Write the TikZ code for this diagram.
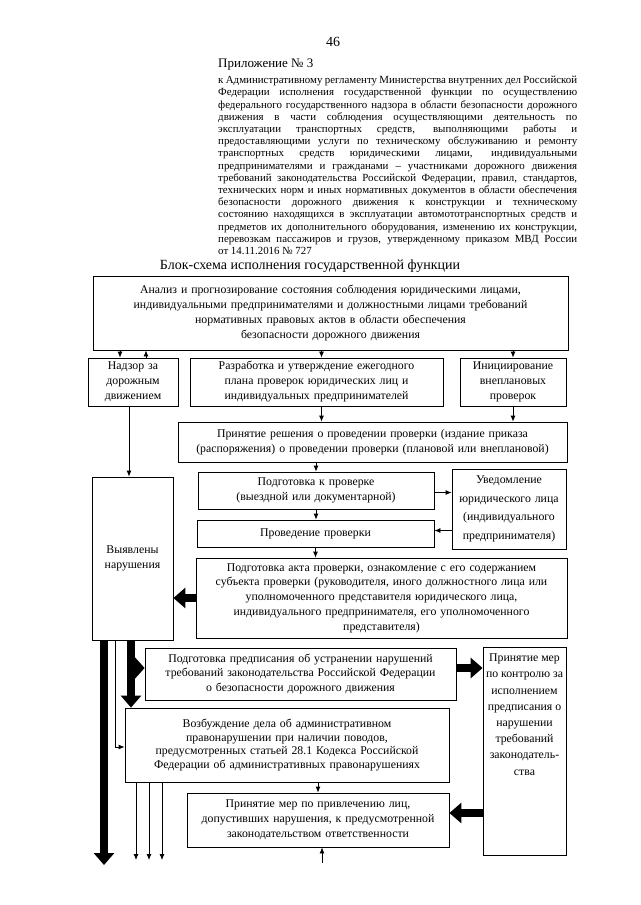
\documentclass[tikz,border=0pt]{standalone}
\usepackage{fontspec}
\setmainfont{Liberation Serif}
\usetikzlibrary{arrows.meta,positioning}

\newcommand{\pline}[1]{\makebox[359pt][s]{\spaceskip=0pt\xspaceskip=0pt #1}}

\tikzset{
  blk/.style={draw, line width=0.8pt, inner sep=0pt, align=center,
    font=\fontsize{11.8}{15}\selectfont},
  arr/.style={line width=0.8pt, -{Latex[length=6pt,width=5pt]}},
  fat/.style={line width=8pt, -{Triangle[length=12pt,width=20pt]}}
}

\begin{document}
\begin{tikzpicture}[x=1pt,y=-1pt]
\useasboundingbox (0,0) rectangle (640,905);

\node[font=\fontsize{14}{16}\selectfont] (page) at (333,42) {46};
\node[anchor=west, inner sep=0pt, font=\fontsize{13}{15}\selectfont] (appx) at (218,65) {Приложение № 3};
\node[anchor=north west, inner sep=0pt, text width=359pt, align=justify,
  font=\fontsize{10.9}{12.2}\selectfont] (reglam) at (218,76) {%
\pline{к Административному регламенту Министерства внутренних дел Российской}\\
\pline{Федерации исполнения государственной функции по осуществлению}\\
\pline{федерального государственного надзора в области безопасности дорожного}\\
\pline{движения в части соблюдения осуществляющими деятельность по}\\
\pline{эксплуатации транспортных средств, выполняющими работы и}\\
\pline{предоставляющими услуги по техническому обслуживанию и ремонту}\\
\pline{транспортных средств юридическими лицами, индивидуальными}\\
\pline{предпринимателями и гражданами – участниками дорожного движения}\\
\pline{требований законодательства Российской Федерации, правил, стандартов,}\\
\pline{технических норм и иных нормативных документов в области обеспечения}\\
\pline{безопасности дорожного движения к конструкции и техническому}\\
\pline{состоянию находящихся в эксплуатации автомототранспортных средств и}\\
\pline{предметов их дополнительного оборудования, изменению их конструкции,}\\
\pline{перевозкам пассажиров и грузов, утвержденному приказом МВД России}\\
от 14.11.2016 № 727};
\node[font=\fontsize{14}{16}\selectfont] (title) at (310,266) {Блок-схема исполнения государственной функции};

% blocks
\node[blk, text width=475pt, minimum height=74pt] (analiz) at (330.5,313) {Анализ и прогнозирование состояния соблюдения юридическими лицами,\\ индивидуальными предпринимателями и должностными лицами требований\\ нормативных правовых актов в области обеспечения\\ безопасности дорожного движения};
\node[blk, text width=90pt, minimum height=48pt] (nadzor) at (133,382) {Надзор за\\ дорожным\\ движением};
\node[blk, text width=253pt, minimum height=48pt] (razrab) at (316.5,382) {Разработка и утверждение ежегодного\\ плана проверок юридических лиц и\\ индивидуальных предпринимателей};
\node[blk, text width=106pt, minimum height=48pt] (inic) at (513,382) {Инициирование\\ внеплановых\\ проверок};
\node[blk, text width=389pt, minimum height=40pt] (reshenie) at (372.5,442) {Принятие решения о проведении проверки (издание приказа\\ (распоряжения) о проведении проверки (плановой или внеплановой)};
\node[blk, text width=81pt, minimum height=163pt] (vyyavl) at (132.5,558.5) {Выявлены\\ нарушения};
\node[blk, text width=236pt, minimum height=37pt] (podgot) at (316,490.5) {Подготовка к проверке\\ (выездной или документарной)};
\node[blk, text width=114pt, minimum height=80pt, font=\fontsize{11.8}{18.5}\selectfont] (uvedom) at (509,509) {Уведомление\\ юридического лица\\ (индивидуального\\ предпринимателя)};
\node[blk, text width=237pt, minimum height=27pt] (proved) at (315.5,533.5) {Проведение проверки};
\node[blk, text width=371pt, minimum height=80pt, font=\fontsize{11.8}{14.7}\selectfont] (akt) at (381.5,598) {Подготовка акта проверки, ознакомление с его содержанием\\ субъекта проверки (руководителя, иного должностного лица или\\ уполномоченного представителя юридического лица,\\ индивидуального предпринимателя, его уполномоченного\\ представителя)};
\node[blk, text width=311pt, minimum height=52pt, font=\fontsize{11.8}{14.5}\selectfont] (predpis) at (300.5,674) {Подготовка предписания об устранении нарушений\\ требований законодательства Российской Федерации\\ о безопасности дорожного движения};
\node[blk, inner ysep=4pt, font=\fontsize{11.8}{16.2}\selectfont] (kontrol) at (524.5,751) {\parbox[c][200pt][t]{83pt}{\centering\vspace*{3pt}Принятие мер\\ по контролю за\\ исполнением\\ предписания о\\ нарушении\\ требований\\ законодатель-\\ства}};
\node[blk, text width=324pt, minimum height=74pt, font=\fontsize{11.8}{13.8}\selectfont] (vozb) at (287,745) {Возбуждение дела об административном\\ правонарушении при наличии поводов,\\ предусмотренных статьей 28.1 Кодекса Российской\\ Федерации об административных правонарушениях};
\node[blk, text width=262pt, minimum height=54pt] (privl) at (318,820) {Принятие мер по привлечению лиц,\\ допустивших нарушения, к предусмотренной\\ законодательством ответственности};

% thin connectors
\draw[arr] ([xshift=-13pt]nadzor.north |- analiz.south) -- ([xshift=-13pt]nadzor.north);
\draw[arr] ([xshift=13pt]nadzor.north) -- ([xshift=13pt]nadzor.north |- analiz.south);
\draw[arr] ([xshift=5pt]razrab.north |- analiz.south) -- ([xshift=5pt]razrab.north);
\draw[arr] (inic.north |- analiz.south) -- (inic.north);
\draw[arr] ([xshift=5pt]razrab.south) -- ([xshift=5pt]razrab.south |- reshenie.north);
\draw[arr] (inic.south) -- (inic.south |- reshenie.north);
\draw[arr] ([xshift=-4pt]nadzor.south) -- ([xshift=-4pt]nadzor.south |- vyyavl.north);
\draw[arr] (podgot.north |- reshenie.south) -- (podgot.north);
\draw[arr] ([yshift=-2pt]podgot.east) -- ([yshift=-2pt]podgot.east -| uvedom.west);
\draw[arr] (podgot.south) -- (podgot.south |- proved.north);
\draw[arr] ([yshift=3pt]uvedom.west |- proved.east) -- ([yshift=3pt]proved.east);
\draw[arr] (proved.south) -- (proved.south |- akt.north);
\draw[arr] (privl.north |- vozb.south) -- (privl.north);
\coordinate (privlin) at (322,863);
\draw[arr] (privlin) -- (privlin |- privl.south);

\coordinate (bend) at (115,747);
\draw[arr] (vyyavl.south -| bend) -- (bend) -- (bend -| vozb.west);
\foreach \x/\n in {136/1,149/2,162/3}{
  \coordinate (out\n) at (\x,860);
  \draw[arr] (vozb.south -| out\n) -- (out\n);
}

% thick connectors
\draw[fat] (akt.west) -- (akt.west -| vyyavl.east);
\draw[fat] ([yshift=6pt]predpis.east) -- ([yshift=6pt]predpis.east -| kontrol.west);
\draw[fat] ([yshift=7pt]kontrol.west |- privl.east) -- ([yshift=7pt]privl.east);
\coordinate (outA) at (104,865);
\draw[fat] (vyyavl.south -| outA) -- (outA);
\coordinate (thk) at (131,668);
\draw[fat] (vyyavl.south -| thk) -- (thk |- vozb.north);
\draw[fat, -{Triangle[length=12pt,width=26pt]}] (thk) -- (thk -| predpis.west);
\end{tikzpicture}
\end{document}
